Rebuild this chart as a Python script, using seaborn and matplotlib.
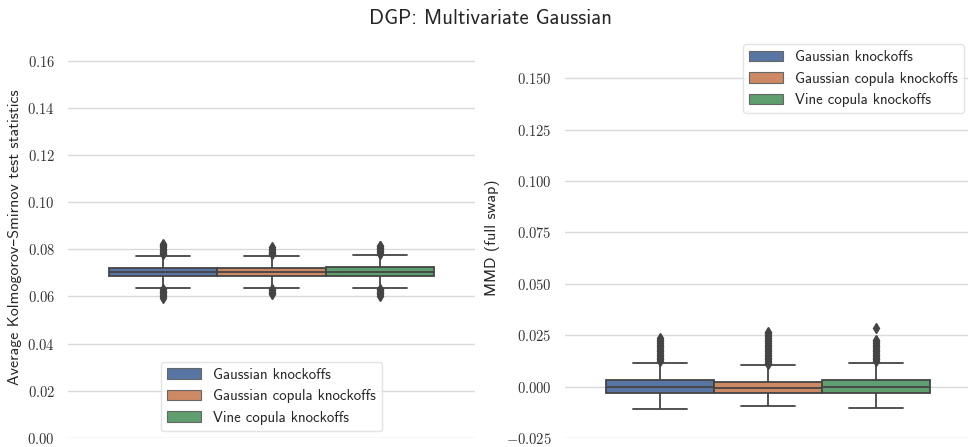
import numpy as np
import pandas as pd
import matplotlib
matplotlib.use("Agg")
import matplotlib.pyplot as plt
import seaborn as sns
from matplotlib.ticker import FuncFormatter

methods = ["Gaussian knockoffs", "Gaussian copula knockoffs", "Vine copula knockoffs"]

# box summaries (whisker low, q1, median, q3, whisker high)
ks_whislo = [0.0638, 0.0638, 0.0637]
ks_q1 = [0.0688, 0.0688, 0.0687]
ks_median = [0.0705, 0.0705, 0.0705]
ks_q3 = [0.0722, 0.0722, 0.0724]
ks_whishi = [0.0772, 0.0772, 0.0777]
ks_fliers = [
    [0.0595, 0.0601, 0.0607, 0.0613, 0.0619, 0.0625, 0.0631,
     0.0778, 0.0784, 0.0790, 0.0796, 0.0802, 0.0808, 0.0814, 0.0820, 0.0824],
    [0.0609, 0.0615, 0.0621, 0.0627, 0.0633,
     0.0778, 0.0784, 0.0790, 0.0796, 0.0802, 0.0808],
    [0.0603, 0.0609, 0.0615, 0.0621, 0.0627, 0.0630,
     0.0782, 0.0788, 0.0794, 0.0800, 0.0806, 0.0812, 0.0814],
]

mmd_whislo = [-0.0107, -0.0096, -0.0104]
mmd_q1 = [-0.0029, -0.0030, -0.0029]
mmd_median = [0.0000, -0.0005, 0.0000]
mmd_q3 = [0.0031, 0.0024, 0.0031]
mmd_whishi = [0.0117, 0.0104, 0.0117]
mmd_fliers = [
    [0.0124, 0.0132, 0.0140, 0.0148, 0.0156, 0.0164, 0.0172, 0.0180,
     0.0188, 0.0196, 0.0204, 0.0212, 0.0220, 0.0228, 0.0235],
    [0.0108, 0.0116, 0.0124, 0.0132, 0.0140, 0.0148, 0.0156, 0.0164,
     0.0172, 0.0180, 0.0188, 0.0196, 0.0204, 0.0212, 0.0220, 0.0228,
     0.0236, 0.0244, 0.0252, 0.0260, 0.0265],
    [0.0124, 0.0132, 0.0140, 0.0148, 0.0156, 0.0164, 0.0172, 0.0180,
     0.0188, 0.0196, 0.0204, 0.0212, 0.0220, 0.0226, 0.0284],
]


def make_frame(whislo, q1, med, q3, whishi, fliers, n=60):
    # rebuild a sample whose box statistics match the summaries above
    rows = []
    for i, m in enumerate(methods):
        vals = fliers[i] + [whislo[i]] + [q1[i]] * n + [med[i]] * n + [q3[i]] * n + [whishi[i]]
        rows += [{"grp": "", "method": m, "value": v} for v in vals]
    return pd.DataFrame(rows)


df_ks = make_frame(ks_whislo, ks_q1, ks_median, ks_q3, ks_whishi, ks_fliers)
df_mmd = make_frame(mmd_whislo, mmd_q1, mmd_median, mmd_q3, mmd_whishi, mmd_fliers)

sns.set_theme(style="whitegrid")
plt.rcParams["font.family"] = ["cmss10", "DejaVu Sans"]
plt.rcParams["mathtext.fontset"] = "cm"
plt.rcParams["axes.unicode_minus"] = True

fig, axes = plt.subplots(1, 2, figsize=(9.68, 4.47), dpi=100)
line_c = "#444444"
flier_kw = dict(marker="d", markerfacecolor=line_c, markeredgecolor=line_c, markersize=5)

for ax, df, fmt, ylab, lim in [
    (axes[0], df_ks, "{:.2f}", "Average Kolmogorov\u2013Smirnov test statistics", (0, 0.17)),
    (axes[1], df_mmd, "{:.3f}", "MMD (full swap)", (-0.025, 0.17)),
]:
    sns.boxplot(data=df, x="grp", y="value", hue="method", ax=ax,
                palette="deep", linecolor=line_c, linewidth=1.3,
                flierprops=flier_kw)
    ax.set_ylim(*lim)
    ax.set_xlim(-0.5, 0.5)
    ax.set_xticks([])
    ax.set_xlabel("")
    ax.set_ylabel(ylab, fontsize=11.5, color="#262626")
    ax.yaxis.set_major_formatter(FuncFormatter(lambda v, p, f=fmt: "$" + f.format(v) + "$"))
    ax.tick_params(axis="y", labelsize=10.5, labelcolor="#333333")
    ax.xaxis.grid(False)
    ax.yaxis.grid(True, color="#d9d9d9", linewidth=1)
    sns.despine(ax=ax, left=True, bottom=True)

axes[0].set_yticks([0, 0.02, 0.04, 0.06, 0.08, 0.10, 0.12, 0.14, 0.16])
axes[1].set_yticks([-0.025, 0, 0.025, 0.05, 0.075, 0.1, 0.125, 0.15])

for ax, loc in [(axes[0], "lower center"), (axes[1], "upper right")]:
    leg = ax.legend(loc=loc, fontsize=10.7, title=None, handlelength=2.3)
    leg.get_frame().set_edgecolor("#dddddd")
    for h in leg.legend_handles:
        h.set_linewidth(0.8)
        h.set_edgecolor("#666666")

axes[0].set_position([68 / 968, 9 / 447, 407 / 968, 401 / 447])
axes[1].set_position([565 / 968, 9 / 447, 406 / 968, 401 / 447])

fig.text(0.507, 1 - 18 / 447, "DGP: Multivariate Gaussian", ha="center", va="center",
         fontsize=15, color="#262626")

fig.savefig("out.png", dpi=100)
